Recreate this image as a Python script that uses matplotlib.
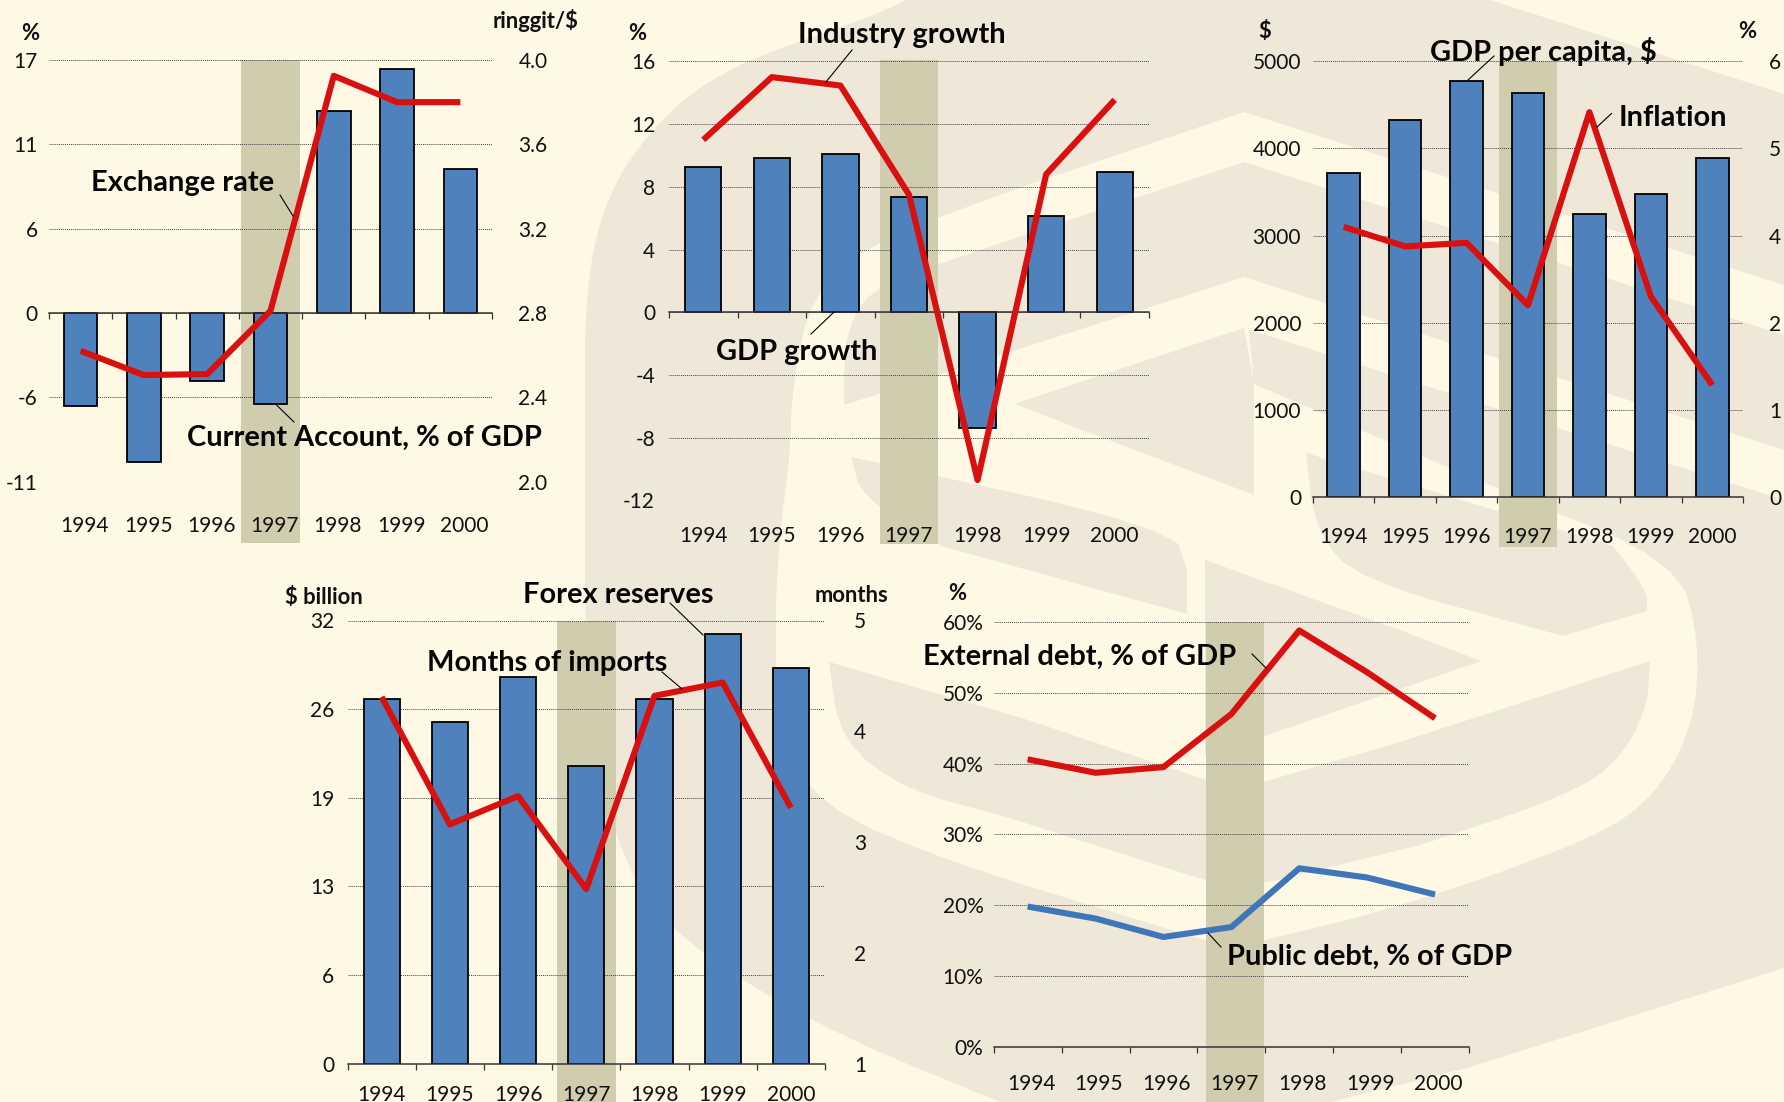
import matplotlib
matplotlib.use('Agg')
import matplotlib.pyplot as plt
from matplotlib.patches import Polygon

plt.rcParams['font.family'] = ['Lato', 'DejaVu Sans']

W, H = 1784, 1102
BG = '#FFF8E4'
LOGO = '#EFE8D9'
SHADE = '#D0CCAE'
BLUE = '#4F81BD'
RED = '#D81010'
LINE_BLUE = '#3F76BA'

years = ['1994', '1995', '1996', '1997', '1998', '1999', '2000']

# panel data
current_account = [-6.25, -10.0, -4.6, -6.13, 13.6, 16.4, 9.7]
exchange_rate = [2.62, 2.505, 2.51, 2.81, 3.925, 3.80, 3.80]
gdp_growth = [9.27, 9.84, 10.07, 7.33, -7.4, 6.17, 8.93]
industry_growth = [11.0, 15.0, 14.46, 7.5, -10.7, 8.8, 13.55]
gdp_per_capita = [3720, 4323, 4778, 4635, 3249, 3474, 3888]
inflation = [3.72, 3.45, 3.5, 2.64, 5.3, 2.76, 1.54]
forex_reserves = [26.3, 24.7, 27.9, 21.5, 26.3, 31.0, 28.6]
months_imports = [4.31, 3.16, 3.415, 2.576, 4.32, 4.44, 3.31]
external_debt = [40.6, 38.7, 39.5, 47.0, 58.8, 52.9, 46.4]
public_debt = [19.8, 18.1, 15.5, 16.9, 25.2, 23.9, 21.5]

# tick positions and the rounded labels the original axes show
ca_ticks = [17, 11.33, 5.67, 0, -5.67, -11.33]
ca_labels = ['17', '11', '6', '0', '-6', '-11']
fx_ticks = [4.0, 3.6, 3.2, 2.8, 2.4, 2.0]
fx_labels = ['4.0', '3.6', '3.2', '2.8', '2.4', '2.0']
growth_ticks = [16, 12, 8, 4, 0, -4, -8, -12]
growth_labels = ['16', '12', '8', '4', '0', '-4', '-8', '-12']
pc_ticks = [5000, 4000, 3000, 2000, 1000, 0]
pc_labels = ['5000', '4000', '3000', '2000', '1000', '0']
infl_ticks = [6, 4.8, 3.6, 2.4, 1.2, 0]
infl_labels = ['6', '5', '4', '2', '1', '0']
res_ticks = [32, 25.6, 19.2, 12.8, 6.4, 0]
res_labels = ['32', '26', '19', '13', '6', '0']
mon_ticks = [5, 4, 3, 2, 1]
mon_labels = ['5', '4', '3', '2', '1']
debt_ticks = [60, 50, 40, 30, 20, 10, 0]
debt_labels = ['60%', '50%', '40%', '30%', '20%', '10%', '0%']


def smooth(pts, rounds=3):
    # corner cutting, only used for the logo outline, end points stay put
    for _ in range(rounds):
        out = [pts[0]]
        for a, b in zip(pts[:-1], pts[1:]):
            out.append((0.75 * a[0] + 0.25 * b[0], 0.75 * a[1] + 0.25 * b[1]))
            out.append((0.25 * a[0] + 0.75 * b[0], 0.25 * a[1] + 0.75 * b[1]))
        out.append(pts[-1])
        pts = out
    return pts


fig = plt.figure(figsize=(W / 100, H / 100), dpi=100, facecolor=BG)

# background logo, pixel coordinates
bg = fig.add_axes([0, 0, 1, 1], zorder=-1)
bg.set_xlim(0, W)
bg.set_ylim(H, 0)
bg.axis('off')
shield = (smooth([(585, 420), (585, 300), (600, 214), (638, 143), (715, 71), (868, 18), (906, 0)])
          + [(1490, 0), (1784, 94), (1784, 968), (1467, 1068), (1330, 1102), (1000, 1102)]
          + smooth([(1000, 1102), (825, 1030), (678, 940), (620, 860), (590, 720), (585, 600)]))
cream_parts = [
    smooth([(1244, 112), (880, 235), (812, 293), (792, 386), (790, 457), (780, 530), (776, 600)], 2)
    + smooth([(776, 600), (776, 700), (800, 790), (910, 850), (1204, 940)], 2)
    + smooth([(1265, 940), (1400, 907), (1567, 849), (1647, 807), (1693, 730), (1700, 642),
              (1677, 561), (1500, 490), (1254, 384)], 2)
    + [(1244, 277)],
    [(1244, 112), (1784, 285), (1784, 335), (1244, 162)],
    [(1244, 277), (1784, 450), (1784, 500), (1244, 328)],
]
beige_parts = [
    smooth([(1244, 162), (937, 264), (870, 290), (847, 330), (844, 375)], 2) + [(844, 405), (1244, 277)],
    [(1014, 404), (1244, 328), (1254, 384), (1254, 495)],
    smooth([(851, 457), (1173, 528), (1187, 570)], 2) + [(1187, 614)] + smooth([(941, 546), (862, 497), (851, 457)], 2),
    [(1306, 453), (1613, 546)] + smooth([(1613, 546), (1647, 590), (1647, 611)], 2) + [(1563, 636)]
    + smooth([(1563, 636), (1358, 580), (1315, 530), (1306, 453)], 2),
    [(1205, 560), (1400, 630), (1481, 661), (1265, 736), (1205, 755)],
    [(829, 662), (1025, 719), (1236, 790), (1400, 742), (1650, 661)]
    + smooth([(1650, 661), (1647, 711), (1613, 769), (1547, 803), (1420, 845)], 2)
    + [(1236, 890), (1000, 815)] + smooth([(1000, 815), (905, 790), (840, 740), (829, 662)], 2),
]
bg.add_patch(Polygon(shield, closed=True, fc=LOGO, ec='none'))
for pts in cream_parts:
    bg.add_patch(Polygon(pts, closed=True, fc=BG, ec='none'))
for pts in beige_parts:
    bg.add_patch(Polygon(pts, closed=True, fc=LOGO, ec='none'))


def make_panel(box, bars, line, lticks, llabels, ylim, rticks=None, rlabels=None, rlim=None,
               shade=(3.0, 0.465, 0.0, 1.0), lpad=8, rpad=19, label_y=0, shift=0.0, line2=None):
    x0, y0, x1, y1 = box
    ax = fig.add_axes([x0 / W, 1 - y1 / H, (x1 - x0) / W, (y1 - y0) / H], facecolor='none')
    xs = list(range(7))
    ax.set_xlim(-0.5, 6.5)
    ax.set_ylim(*ylim)

    mid, half, s0, s1 = shade
    ax.axvspan(mid - half, mid + half, ymin=s0, ymax=s1, color=SHADE, lw=0, zorder=0.4, clip_on=False)

    if bars is not None:
        ax.bar(xs, bars, width=0.53, color=BLUE, edgecolor='black', linewidth=1.3, zorder=2)

    ax.set_axisbelow(True)
    ax.grid(axis='y', color='#444444', lw=0.7, linestyle=(0, (1, 1)))
    ax.grid(axis='x', visible=False)
    for name in ['top', 'left', 'right']:
        ax.spines[name].set_visible(False)
    ax.spines['bottom'].set_position(('data', 0))
    ax.spines['bottom'].set_color('#333333')
    ax.spines['bottom'].set_linewidth(1.1)
    ax.spines['bottom'].set_zorder(2.5)

    ax.set_yticks(lticks, llabels)
    ax.tick_params(axis='y', length=0, pad=lpad, labelsize=15, colors='#111111')

    # boundary ticks on the zero line, year labels pushed far below it
    ax.set_xticks([i - 0.5 for i in range(8)], [''] * 8)
    ax.set_xticks([i + shift for i in xs], years, minor=True)
    ax.tick_params(axis='x', which='major', direction='out', length=4.5, width=0.9, color='#333333')
    zero_px = y0 + (ylim[1] - 0) / (ylim[1] - ylim[0]) * (y1 - y0)
    ax.tick_params(axis='x', which='minor', length=0, labelsize=15, colors='#111111',
                   pad=(label_y - zero_px - 9) * 0.72)

    target = ax
    if rticks is not None:
        target = ax.twinx()
        target.set_facecolor('none')
        target.set_ylim(*rlim)
        target.set_yticks(rticks, rlabels)
        target.tick_params(axis='y', length=0, pad=rpad, labelsize=15, colors='#111111')
        for name in target.spines:
            target.spines[name].set_visible(False)
    target.plot(xs, line, color=RED, lw=4.4, solid_joinstyle='round', solid_capstyle='butt', zorder=3)
    if line2 is not None:
        target.plot(xs, line2, color=LINE_BLUE, lw=4.4, solid_joinstyle='round',
                    solid_capstyle='butt', zorder=3)
    return ax


# shade limits are axes fractions, they run past the plot area like the original
make_panel((49, 60, 492, 481.5), current_account, exchange_rate, ca_ticks, ca_labels, (-11.33, 17),
           fx_ticks, fx_labels, (2.0, 4.0), shade=(3.0, 0.465, -0.147, 1.0), lpad=8, rpad=19,
           label_y=525, shift=0.065)
make_panel((669, 61.4, 1149, 500.5), gdp_growth, industry_growth, growth_ticks, growth_labels, (-12, 16),
           shade=(3.0, 0.43, -0.10, 1.003), lpad=10, label_y=535)
make_panel((1313, 61.4, 1743, 496.8), gdp_per_capita, inflation, pc_ticks, pc_labels, (0, 5000),
           infl_ticks, infl_labels, (0, 6), shade=(3.0, 0.48, -0.115, 1.0), lpad=8.6, rpad=18.7, label_y=536)
make_panel((347.5, 620.5, 825, 1063.7), forex_reserves, months_imports, res_ticks, res_labels, (0, 32),
           mon_ticks, mon_labels, (1, 5), shade=(3.0, 0.435, -0.09, 0.998), lpad=9.7, rpad=21, label_y=1094)
make_panel((993.7, 622, 1469, 1046.7), None, external_debt, debt_ticks, debt_labels, (0, 60),
           shade=(3.05, 0.43, -0.13, 1.0), lpad=7.4, label_y=1083, shift=0.05, line2=public_debt)

# labels and leader lines on top, pixel coordinates
top = fig.add_axes([0, 0, 1, 1], zorder=10, facecolor='none')
top.set_xlim(0, W)
top.set_ylim(H, 0)
top.axis('off')

big_labels = [('Exchange rate', 91, 183), ('Current Account, % of GDP', 187, 438),
              ('Industry growth', 798, 35), ('GDP growth', 716, 352),
              ('GDP per capita, $', 1430, 51), ('Inflation', 1619, 118),
              ('Forex reserves', 523, 595), ('Months of imports', 427, 663),
              ('External debt, % of GDP', 923, 657), ('Public debt, % of GDP', 1227, 957)]
for s, x, y in big_labels:
    top.text(x, y, s, fontsize=20.9, fontweight='bold', color='#050505', ha='left', va='center')

unit_labels = [('%', 30.6, 33), ('ringgit/$', 536, 21), ('%', 637, 34), ('$', 1265, 32), ('%', 1747, 32),
               ('$ billion', 324, 597), ('months', 852, 596), ('%', 957, 593)]
for s, x, y in unit_labels:
    top.text(x, y, s, fontsize=15.8, fontweight='bold', color='#111111', ha='center', va='center')

leaders = [((280, 195), (293, 216)), ((275.5, 404), (294, 422)), ((852, 50), (826, 82)),
           ((834, 312), (811, 334)), ((1494, 56), (1468, 80)), ((1611.5, 113.5), (1597, 127)),
           ((670, 603), (703, 635)), ((662, 672), (682, 689)), ((1252, 654), (1266, 668)),
           ((1208, 933), (1221, 947))]
for a, b in leaders:
    top.plot([a[0], b[0]], [a[1], b[1]], color='black', lw=0.8)

plt.savefig('out.png', dpi=100, facecolor=BG)
